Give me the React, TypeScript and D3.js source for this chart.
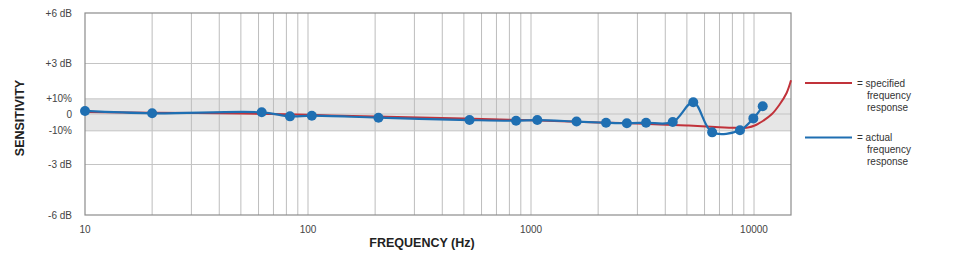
import React from "react";
import * as d3 from "d3";

const W = 966;
const H = 261;

// actual frequency response (measured points)
const actualFreq = [10, 20, 62, 83, 104, 207, 530, 857, 1067, 1600, 2170, 2690, 3280, 4320, 5340, 6490, 8650, 9930, 10940];
const actualDb = [0.18, 0.04, 0.1, -0.14, -0.1, -0.22, -0.36, -0.4, -0.36, -0.45, -0.52, -0.55, -0.52, -0.48, 0.7, -1.09, -0.97, -0.26, 0.46];

// specified frequency response curve
const specFreq = [10, 20, 50, 100, 200, 500, 1000, 2000, 3000, 5000, 7000, 8000, 9000, 9500, 10000, 10500, 11000, 12000, 13000, 14000, 14650];
const specDb = [0.12, 0.08, 0.03, -0.05, -0.15, -0.27, -0.37, -0.5, -0.57, -0.68, -0.78, -0.82, -0.83, -0.79, -0.7, -0.56, -0.4, -0.02, 0.55, 1.25, 2.0];

const xTickValues = [10, 100, 1000, 10000];
const xTickLabels = ["10", "100", "1000", "10000"];
const yTickValues = [6, 3, 0.9, 0, -1.0, -3, -6];
const yTickLabels = ["+6 dB", "+3 dB", "+10%", "0", "-10%", "-3 dB", "-6 dB"];
const hGridValues = [3, 0.9, 0, -1.0, -3];
const bandTop = 0.9;
const bandBottom = -1.0;

const legendLabels = [
  ["= specified", "frequency", "response"],
  ["= actual", "frequency", "response"],
];

const RED = "#c1323a";
const BLUE = "#1f6fb2";
const FONT = "'Liberation Sans', Arial, Helvetica, sans-serif";

export default function App() {
  const left = 85, right = 791, top = 13, bottom = 215;
  const x = d3.scaleLog().domain([10, 14650]).range([left, right]);
  const y = d3.scaleLinear().domain([-6, 6]).range([bottom, top]);

  const minor: number[] = [];
  for (const dec of [10, 100, 1000]) {
    for (let k = 2; k <= 9; k++) minor.push(dec * k);
  }
  const vGrid = [...minor, 100, 1000, 10000];

  const specData = specFreq.map((f, i) => [f, specDb[i]] as [number, number]);
  const actData = actualFreq.map((f, i) => [f, actualDb[i]] as [number, number]);

  const specLine = d3
    .line<[number, number]>()
    .x((d) => x(d[0]))
    .y((d) => y(d[1]))
    .curve(d3.curveCatmullRom.alpha(0.5));
  const actLine = d3
    .line<[number, number]>()
    .x((d) => x(d[0]))
    .y((d) => y(d[1]))
    .curve(d3.curveCatmullRom.alpha(0.5));

  return (
    <svg
      width={W}
      height={H}
      style={{ position: "absolute", left: 0, top: 0, background: "#fff" }}
      fontFamily={FONT}
    >
      <rect x={0} y={0} width={W} height={H} fill="#fff" />
      {/* tolerance band */}
      <rect
        x={left}
        y={y(bandTop)}
        width={right - left}
        height={y(bandBottom) - y(bandTop)}
        fill="#e6e6e6"
      />
      {/* vertical grid */}
      {vGrid.map((v) => (
        <line key={"v" + v} x1={x(v)} x2={x(v)} y1={top} y2={bottom} stroke="#bdbdbd" strokeWidth={1} />
      ))}
      {/* horizontal grid */}
      {hGridValues.map((v) => (
        <line key={"h" + v} x1={left} x2={right} y1={y(v)} y2={y(v)} stroke="#c4c4c4" strokeWidth={1} />
      ))}
      {/* frame */}
      <rect x={left} y={top} width={right - left} height={bottom - top} fill="none" stroke="#8c8c8c" strokeWidth={1.2} />

      {/* y tick labels */}
      {yTickValues.map((v, i) => (
        <text key={"yt" + i} x={72} y={y(v)} dy="0.35em" textAnchor="end" fontSize={10} fill="#444">
          {yTickLabels[i]}
        </text>
      ))}
      {/* x tick labels */}
      {xTickValues.map((v, i) => (
        <text key={"xt" + i} x={x(v)} y={233} textAnchor="middle" fontSize={10} fill="#444">
          {xTickLabels[i]}
        </text>
      ))}

      {/* axis titles */}
      <text
        transform={`translate(24,118) rotate(-90)`}
        textAnchor="middle"
        fontSize={12.5}
        fontWeight="bold"
        fill="#222"
      >
        SENSITIVITY
      </text>
      <text x={422} y={247} textAnchor="middle" fontSize={12.5} fontWeight="bold" fill="#222">
        FREQUENCY (Hz)
      </text>

      {/* specified response */}
      <path d={specLine(specData) || ""} fill="none" stroke={RED} strokeWidth={2} />
      {/* actual response */}
      <path d={actLine(actData) || ""} fill="none" stroke={BLUE} strokeWidth={2.2} />
      {actData.map((d, i) => (
        <circle key={"c" + i} cx={x(d[0])} cy={y(d[1])} r={5} fill={BLUE} />
      ))}

      {/* legend */}
      {[RED, BLUE].map((c, i) => {
        const ly = 83 + i * 54.5;
        return (
          <g key={"lg" + i}>
            <line x1={805} x2={852} y1={ly} y2={ly} stroke={c} strokeWidth={2.2} />
            {legendLabels[i].map((t, j) => (
              <text
                key={j}
                x={j === 0 ? 857 : 867}
                y={ly + j * 12}
                dy="0.35em"
                fontSize={10}
                fill="#333"
              >
                {t}
              </text>
            ))}
          </g>
        );
      })}
    </svg>
  );
}
